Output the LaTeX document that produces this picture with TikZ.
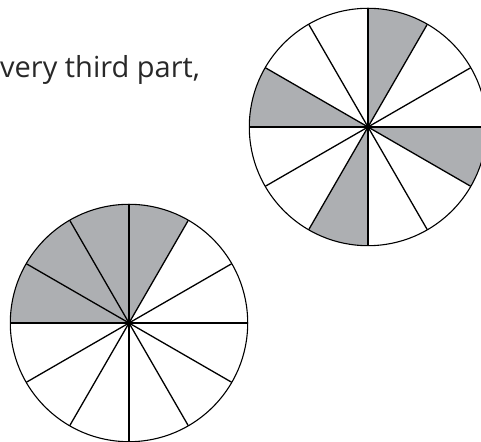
\documentclass[tikz,border=0pt]{standalone}
\usepackage{fontspec}
\setmainfont{Open Sans}
\usepackage{tikz}
\usetikzlibrary{positioning,calc}
\definecolor{shade}{RGB}{173,175,178}
\definecolor{ink}{RGB}{40,40,40}

\begin{document}
\begin{tikzpicture}[
  x=1pt,y=1pt,
  every node/.style={font=\fontsize{29}{33}\selectfont},
  rim/.style={black,line width=1.1pt},
  spoke/.style={black,line width=1.3pt},
  part/.style={fill=shade,draw=none}
]
  % 描画範囲
  \useasboundingbox (0,0) rectangle (481,441);
  \clip (0,0) rectangle (481,441);

  % 問題文
  \node[anchor=base west,inner sep=0pt,text=ink] (prompt) at (0,363) {very third part,};

  % 円の中心
  \coordinate (upper) at (368,314);
  \coordinate (lower) at (129,118);
  \def\rad{118.7}

  % 塗られた部分
  \foreach \a in {60,150,240,330}
    \fill[part] (upper) -- ++(\a:\rad) arc (\a:\a+30:\rad) -- cycle;
  \fill[part] (lower) -- ++(60:\rad) arc (60:180:\rad) -- cycle;

  % 12等分の線
  \foreach \c in {upper,lower}{
    \foreach \a in {0,30,...,330}
      \draw[spoke] (\c) -- ++(\a:\rad);
    \draw[rim] (\c) circle (\rad);
    \fill (\c) circle (2.6);
  }
\end{tikzpicture}
\end{document}
